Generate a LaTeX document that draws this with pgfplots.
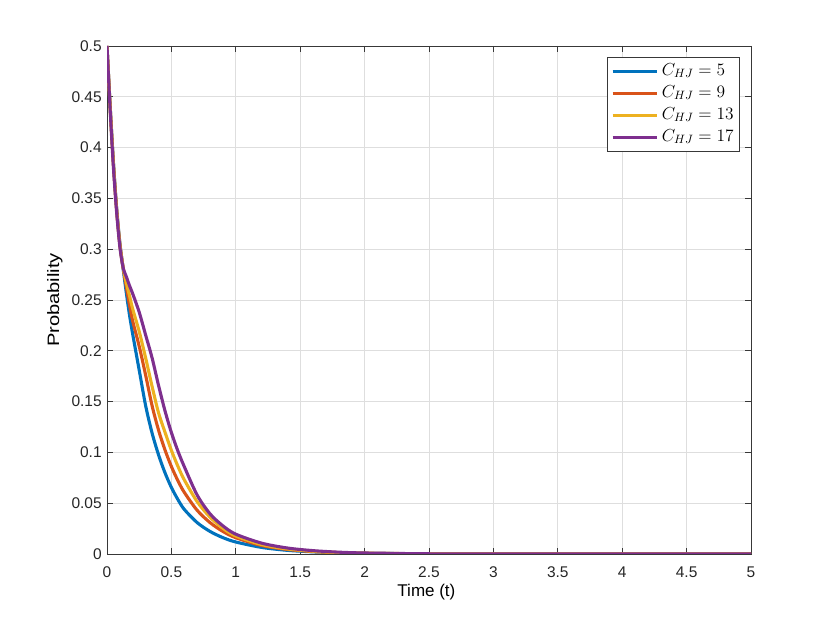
\documentclass[border=0pt]{standalone}
\usepackage{pgfplots}
\pgfplotsset{compat=1.18}
\usepackage{fontspec}
\setmainfont{Liberation Sans}
\definecolor{c1}{rgb}{0,0.447,0.741}
\definecolor{c2}{rgb}{0.85,0.325,0.098}
\definecolor{c3}{rgb}{0.929,0.694,0.125}
\definecolor{c4}{rgb}{0.494,0.184,0.556}
\newcommand{\leg}[1]{\scalebox{1.21}{$C_{HJ}=#1$}}
\begin{document}
\begin{tikzpicture}[x=1pt,y=1pt]
\useasboundingbox (0,0) rectangle (830,623);
\begin{axis}[at={(107pt,69pt)}, anchor=south west, scale only axis,
  width=644pt, height=508pt,
  xmin=0, xmax=5, ymin=0, ymax=0.5,
  xtick={0,0.5,1,1.5,2,2.5,3,3.5,4,4.5,5},
  xticklabels={0,0.5,1,1.5,2,2.5,3,3.5,4,4.5,5},
  ytick={0,0.05,0.1,0.15,0.2,0.25,0.3,0.35,0.4,0.45,0.5},
  yticklabels={0,0.05,0.1,0.15,0.2,0.25,0.3,0.35,0.4,0.45,0.5},
  tick align=inside, tick pos=both, major tick length=6pt,
  grid=major, grid style={color=black!13, line width=0.7pt},
  axis line style={color=black!78, line width=0.7pt},
  tick style={color=black!78, line width=0.7pt},
  ticklabel style={font=\fontsize{15.5}{18}\selectfont, color=black!85},
  xticklabel style={yshift=-9pt},
  yticklabel style={xshift=-1.8pt},
  xlabel={\fontsize{17}{20}\selectfont Time (t)},
  ylabel={\fontsize{16.5}{20}\selectfont\scalebox{1.22}[1]{Probability}},
  xlabel style={at={(axis description cs:0.496,-0.0827)}, anchor=base},
  ylabel style={at={(axis description cs:-0.0745,0.5)}, anchor=base},
  legend style={at={(1,1)}, anchor=north east, xshift=-11pt, yshift=-11pt,
    font=\fontsize{14.4}{17}\selectfont, draw=black!78, line width=0.7pt,
    row sep=2pt, inner xsep=4pt, inner ysep=4pt, column sep=2pt,
    nodes={inner sep=2pt, text height=12pt, text depth=4pt},
    cells={anchor=west}},
  legend image code/.code={\draw[#1, line width=2.4pt] (0pt,0pt) -- (44pt,0pt);},
]
\addplot[c1, line width=3.1pt, smooth, tension=0.5] coordinates {
(0,0.5)(0.025,0.44)(0.05,0.385)(0.075,0.340)(0.1,0.306)(0.125,0.281)(0.15,0.257)
(0.175,0.235)(0.2,0.216)(0.25,0.181)(0.3,0.146)(0.35,0.119)(0.4,0.0977)(0.45,0.080)
(0.5,0.0655)(0.55,0.0537)(0.6,0.0439)(0.7,0.0309)(0.8,0.0222)(0.9,0.0161)(1.0,0.0118)
(1.2,0.0065)(1.4,0.0036)(1.6,0.0021)(1.8,0.0012)(2.0,0.0007)(2.5,0.0002)(3,0.00005)(4,0)(5,0)};
\addlegendentry{\leg{5}}
\addplot[c2, line width=3.1pt, smooth, tension=0.5] coordinates {
(0,0.5)(0.025,0.439)(0.05,0.384)(0.075,0.339)(0.1,0.305)(0.125,0.282)(0.15,0.263)
(0.175,0.245)(0.2,0.229)(0.25,0.2045)(0.3,0.176)(0.35,0.146)(0.4,0.122)(0.45,0.1025)
(0.5,0.0861)(0.55,0.0723)(0.6,0.0607)(0.7,0.043)(0.8,0.0309)(0.9,0.0222)(1.0,0.016)
(1.2,0.0084)(1.4,0.0045)(1.6,0.0024)(1.8,0.0013)(2.0,0.0007)(2.5,0.00015)(3,0.00003)(4,0)(5,0)};
\addlegendentry{\leg{9}}
\addplot[c3, line width=3.1pt, smooth, tension=0.5] coordinates {
(0,0.5)(0.025,0.438)(0.05,0.383)(0.075,0.338)(0.1,0.304)(0.125,0.282)(0.15,0.267)
(0.175,0.254)(0.2,0.241)(0.25,0.219)(0.3,0.193)(0.35,0.165)(0.4,0.139)(0.45,0.12)
(0.5,0.102)(0.55,0.0865)(0.6,0.073)(0.7,0.0515)(0.8,0.0362)(0.9,0.0253)(1.0,0.0177)
(1.2,0.0093)(1.4,0.005)(1.6,0.0027)(1.8,0.0014)(2.0,0.0008)(2.5,0.0002)(3,0.00004)(4,0)(5,0)};
\addlegendentry{\leg{13}}
\addplot[c4, line width=3.1pt, smooth, tension=0.5] coordinates {
(0,0.5)(0.025,0.436)(0.05,0.38)(0.075,0.336)(0.1,0.302)(0.125,0.282)(0.15,0.273)
(0.175,0.264)(0.2,0.256)(0.25,0.238)(0.3,0.2155)(0.35,0.193)(0.4,0.166)(0.45,0.141)
(0.5,0.1195)(0.55,0.1015)(0.6,0.086)(0.7,0.058)(0.8,0.0395)(0.9,0.0277)(1.0,0.0195)
(1.2,0.0107)(1.4,0.0059)(1.6,0.0033)(1.8,0.0018)(2.0,0.001)(2.5,0.0002)(3,0.00005)(4,0)(5,0)};
\addlegendentry{\leg{17}}
\end{axis}
\end{tikzpicture}
\end{document}
